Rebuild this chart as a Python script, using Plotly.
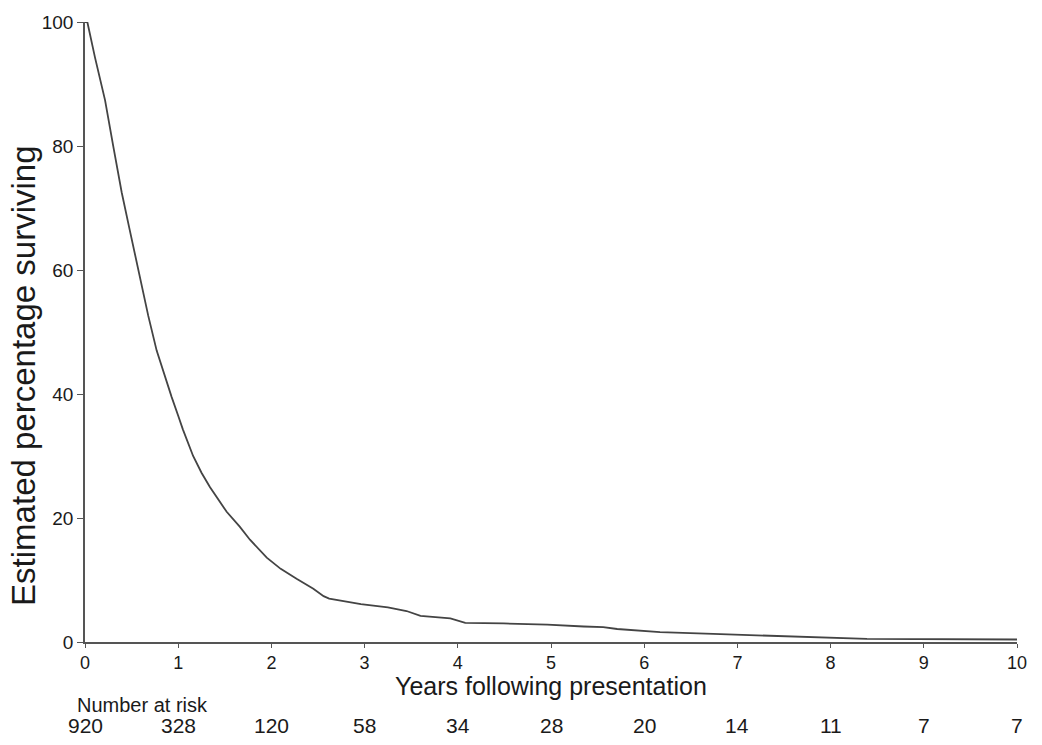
import plotly.graph_objects as go

# Kaplan-Meier style survival curve
years = [0.0, 0.025, 0.107, 0.215, 0.304, 0.394, 0.475, 0.572, 0.679, 0.769,
         0.88, 0.93, 1.00, 1.05, 1.16, 1.25, 1.34, 1.52, 1.66, 1.77, 1.95,
         2.10, 2.27, 2.45, 2.56, 2.62, 2.96, 3.25, 3.45, 3.60, 3.92, 4.08,
         4.49, 4.96, 5.35, 5.56, 5.71, 6.17, 6.74, 7.14, 7.46, 7.81, 8.39, 10.0]
surv = [100.0, 100.0, 94.3, 87.4, 79.9, 72.5, 66.8, 60.0, 52.6, 47.0,
        41.7, 39.5, 36.5, 34.3, 30.0, 27.3, 25.0, 21.0, 18.6, 16.5, 13.6,
        11.8, 10.2, 8.6, 7.4, 7.0, 6.1, 5.6, 5.0, 4.2, 3.8, 3.1,
        3.0, 2.8, 2.5, 2.4, 2.1, 1.6, 1.3, 1.1, 1.0, 0.8, 0.5, 0.4]

x_ticks = [0, 1, 2, 3, 4, 5, 6, 7, 8, 9, 10]
y_ticks = [0, 20, 40, 60, 80, 100]
at_risk = [920, 328, 120, 58, 34, 28, 20, 14, 11, 7, 7]

FONT = "Liberation Sans, Arial, sans-serif"
TXT = "#1a1a1a"
AX = "#555555"

fig = go.Figure()
fig.add_trace(go.Scatter(x=years, y=surv, mode="lines",
                         line=dict(color="#444444", width=1.8),
                         showlegend=False, hoverinfo="skip"))

fig.update_layout(
    width=1042, height=745,
    margin=dict(l=85, r=25, t=14, b=103),
    paper_bgcolor="white", plot_bgcolor="white",
    font=dict(family=FONT, color=TXT, size=19),
    xaxis=dict(range=[0, 10], tickvals=x_ticks, ticktext=[str(v) for v in x_ticks],
               showgrid=False, zeroline=False, showline=True, linecolor=AX,
               linewidth=1.5, ticks="outside", ticklen=4, tickcolor=AX,
               tickwidth=1.2, tickfont=dict(size=18, family=FONT, color=TXT)),
    yaxis=dict(range=[0, 100], tickvals=y_ticks, ticktext=[str(v) for v in y_ticks],
               showgrid=False, zeroline=False, showline=True, linecolor=AX,
               linewidth=1.5, ticks="outside", ticklen=6, tickcolor=AX,
               tickwidth=1.2, tickfont=dict(size=19, family=FONT, color=TXT)),
)

# Axis titles
fig.add_annotation(text="Estimated percentage surviving", xref="paper", yref="paper",
                   x=-0.066, y=0.43, textangle=-90, showarrow=False,
                   xanchor="center", yanchor="middle",
                   font=dict(size=33, family=FONT, color=TXT))
fig.add_annotation(text="Years following presentation", xref="paper", yref="paper",
                   x=0.5, y=-0.071, showarrow=False, xanchor="center", yanchor="middle",
                   font=dict(size=25, family=FONT, color=TXT))

# Number at risk table
fig.add_annotation(text="Number at risk", xref="paper", yref="paper",
                   x=-0.011, y=-0.102, showarrow=False, xanchor="left", yanchor="middle",
                   font=dict(size=20, family=FONT, color=TXT))
for xv, n in zip(x_ticks, at_risk):
    fig.add_annotation(text=str(n), xref="x", yref="paper", x=xv, y=-0.135,
                       showarrow=False, xanchor="center", yanchor="middle",
                       font=dict(size=21, family=FONT, color=TXT))

fig.write_html("out.html")
